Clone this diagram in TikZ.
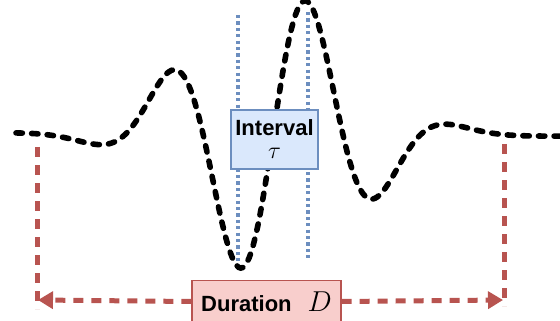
\documentclass[tikz,border=0pt]{standalone}
\usepackage{fontspec}
\setmainfont{Liberation Sans}
\usepackage{xcolor}
\usepackage{tikz}
\usetikzlibrary{arrows.meta,positioning,calc}
\definecolor{durred}{HTML}{B85450}
\definecolor{durfill}{HTML}{F8CECC}
\definecolor{intblue}{HTML}{6C8EBF}
\definecolor{intfill}{HTML}{DAE8FC}
\tikzset{
  wave/.style={line width=2.8pt,black,line cap=round,dash pattern=on 3.2pt off 4.6pt},
  durline/.style={line width=2.5pt,durred,dash pattern=on 5pt off 4pt},
  durarr/.style={durline,-{Triangle[length=7.5pt,width=8.5pt]}},
  tauline/.style={line width=2pt,intblue,dash pattern=on 1.6pt off 1.6pt},
  lbox/.style={rectangle,draw,line width=0.6pt,align=center,
    font=\fontsize{11}{12.5}\selectfont\bfseries,inner sep=2pt},
}

\begin{document}
\begin{tikzpicture}[x=0.5pt,y=-0.5pt]
\useasboundingbox (0,0) rectangle (560,320);

% interval markers
\coordinate (ta) at (238,15);
\coordinate (tb) at (238,262);
\coordinate (tc) at (308,12);
\coordinate (td) at (308,258);
\draw[tauline] (ta) -- (tb);
\draw[tauline] (tc) -- (td);

% signal
\draw[wave] plot[domain=16:560,samples=260]
  (\x,{133+3*(\x-16)/544-146*exp(-1*((\x-273)/113)^2)
       *sin(2.6087*(\x-273)*(1-0.1*((\x-273)/188)^2))});

% duration
\coordinate (la) at (37,147);
\coordinate (lb) at (37,309);
\coordinate (ra) at (504,144);
\coordinate (rb) at (504,306);
\coordinate (lt) at (38,300);
\coordinate (rt) at (503,300);
\draw[durline] (la) -- (lb);
\draw[durline] (ra) -- (rb);

\node[lbox,fill=intfill,draw=intblue,minimum width=43.5pt,minimum height=29.5pt]
  (intv) at (274.5,139.5) {Interval\\[-1pt]{\large$\tau$}};
\node[lbox,fill=durfill,draw=durred,minimum width=74.5pt,minimum height=21pt]
  (dur) at (266.5,301.5) {Duration\;\, {\Large$D$}};

\draw[durarr] (dur.west) -- (lt);
\draw[durarr] (dur.east) -- (rt);
\end{tikzpicture}
\end{document}
